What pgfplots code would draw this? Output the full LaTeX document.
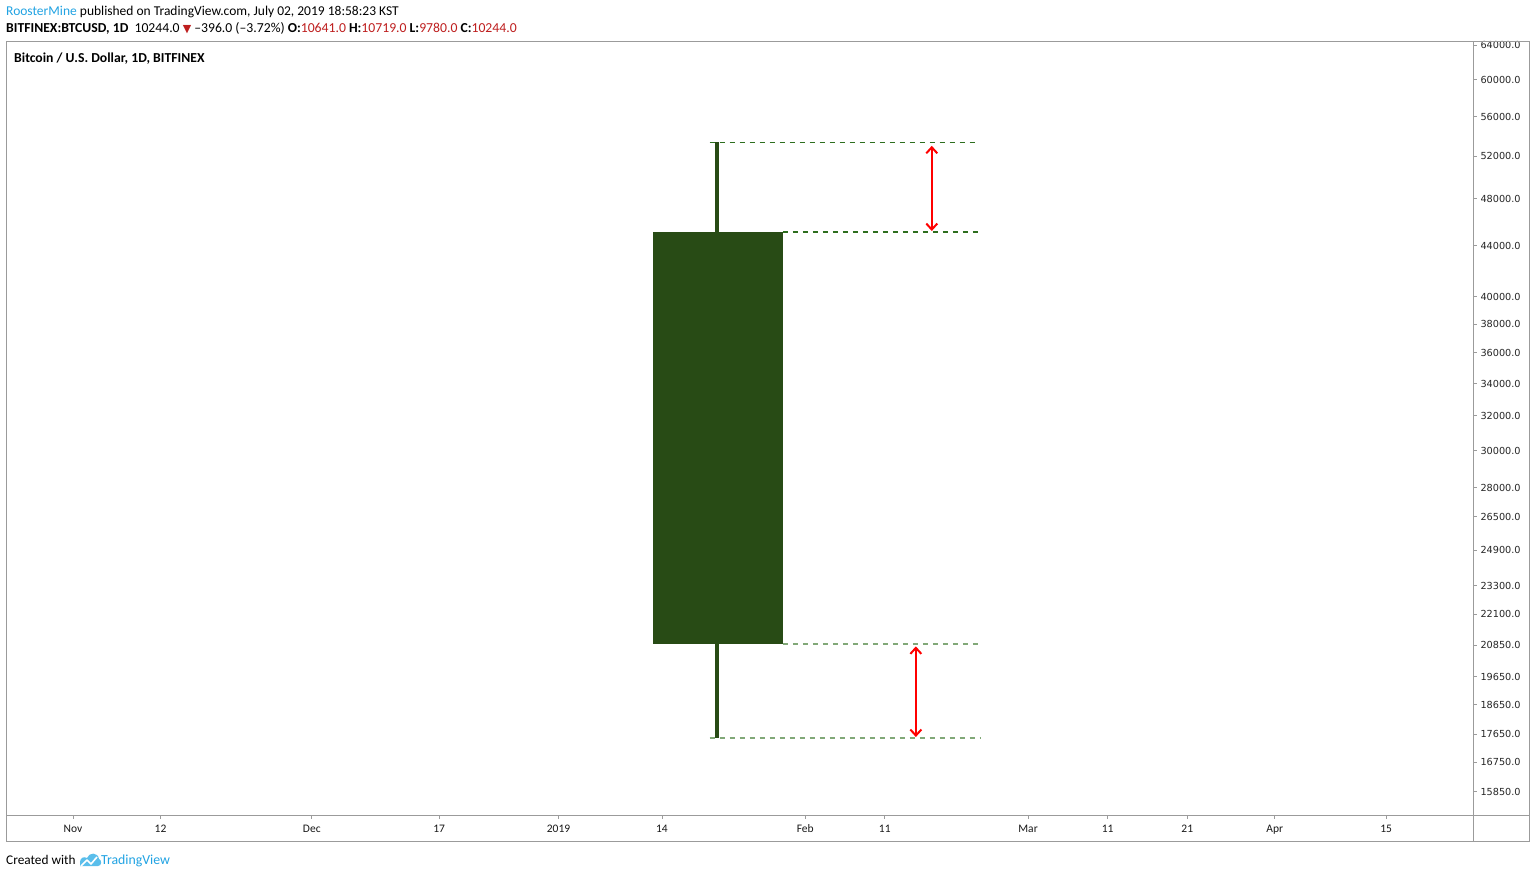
\documentclass[border=0pt]{standalone}
\usepackage{pgfplots}
\pgfplotsset{compat=1.18}
\usepackage{fontspec}
\setmainfont{Carlito}
\newfontfamily\dejavu{DejaVu Sans}
\usetikzlibrary{arrows.meta}
\definecolor{tvblue}{RGB}{33,163,227}
\definecolor{tvlogo}{RGB}{90,190,235}
\definecolor{tvred}{RGB}{190,30,30}
\definecolor{candle}{RGB}{40,75,21}
\definecolor{dashgreen}{RGB}{45,110,30}
\definecolor{framegray}{RGB}{155,155,155}
\begin{document}
\begin{tikzpicture}[x=1pt,y=1pt]
\path[use as bounding box] (0,0) rectangle (1536,-878);
\fill[white] (0,0) rectangle (1536,-878);
\begin{axis}[
  at={(6pt,-815pt)}, anchor=south west,
  scale only axis, width=1467pt, height=774pt,
  xmin=-8.42, xmax=175.9,
  ymode=log, ymin=15180, ymax=64480,
  axis line style={draw=none},
  tick align=outside,
  major tick length=4pt,
  tick style={framegray, line width=0.8pt},
  minor tick num=0,
  xtick pos=bottom, ytick pos=right,
  xtick={0,11,30,46,61,74,92,102,120,130,140,151,165},
  xticklabels={Nov,12,Dec,17,2019,14,Feb,11,Mar,11,21,Apr,15},
  typeset ticklabels with strut,
  xticklabel style={font=\fontsize{11.5}{13}\selectfont, text=black!90, yshift=-1pt},
  ytick={64000,60000,56000,52000,48000,44000,40000,38000,36000,34000,32000,30000,28000,26500,24900,23300,22100,20850,19650,18650,17650,16750,15850},
  yticklabels={64000.0,60000.0,56000.0,52000.0,48000.0,44000.0,40000.0,38000.0,36000.0,34000.0,32000.0,30000.0,28000.0,26500.0,24900.0,23300.0,22100.0,20850.0,19650.0,18650.0,17650.0,16750.0,15850.0},
  yticklabel pos=right,
  yticklabel style={font=\dejavu\fontsize{9.7}{11}\selectfont, text=black!85, anchor=west, yshift=-1.5pt},
  clip=false,
]
% wick
\addplot[candle, line width=4pt, line cap=butt] coordinates {(80.9,17530) (80.9,53370)};
% body
\addplot[fill=candle, draw=none] coordinates {(72.9,20890) (89.2,20890) (89.2,45120) (72.9,45120)} -- cycle;
% dashed levels
\addplot[dashgreen, line width=1.2pt, dash pattern=on 5pt off 5pt] coordinates {(80.0,53370) (113.6,53370)};
\addplot[dashgreen, line width=1.2pt, dash pattern=on 5pt off 5pt] coordinates {(89.2,45120) (113.8,45120)};
\addplot[dashgreen!60, line width=1.2pt, dash pattern=on 5pt off 5pt] coordinates {(89.2,20890) (113.8,20890)};
\addplot[dashgreen!60, line width=1.2pt, dash pattern=on 5pt off 5pt] coordinates {(80.0,17530) (114.1,17530)};
% arrows
\addplot[red, line width=2pt, {Straight Barb[length=6pt,width=11pt]}-{Straight Barb[length=6pt,width=11pt]}] coordinates {(107.9,53000) (107.9,45200)};
\addplot[red, line width=2pt, {Straight Barb[length=6pt,width=11pt]}-{Straight Barb[length=6pt,width=11pt]}] coordinates {(105.9,20800) (105.9,17560)};
\end{axis}
% frame
\draw[framegray, line width=1pt] (6,-41) rectangle (1529,-841);
\draw[framegray, line width=1pt] (1473,-41) -- (1473,-841);
\draw[framegray, line width=1pt] (6,-815) -- (1529,-815);
% header
\node[anchor=base west, inner sep=0pt, font=\fontsize{13.5}{15}\selectfont] at (6,-16)
  {\textcolor{tvblue}{RoosterMine} published on TradingView.com, July 02, 2019 18:58:23 KST};
\node[anchor=base west, inner sep=0pt, font=\fontsize{13.7}{15}\selectfont] at (6,-32)
  {\textbf{BITFINEX:BTCUSD, 1D}\ \ 10244.0 {\dejavu\fontsize{11}{12}\selectfont\textcolor{tvred}{▼}} –396.0 (–3.72\%) \textbf{O:}\textcolor{tvred}{10641.0} \textbf{H:}\textcolor{tvred}{10719.0} \textbf{L:}\textcolor{tvred}{9780.0} \textbf{C:}\textcolor{tvred}{10244.0}};
\node[anchor=base west, inner sep=0pt, font=\bfseries\fontsize{13.7}{15}\selectfont] at (14,-62)
  {Bitcoin / U.S. Dollar, 1D, BITFINEX};
% footer
\node[anchor=base west, inner sep=0pt, font=\fontsize{13.3}{15}\selectfont] at (6,-864) {Created with};
\fill[tvlogo] (80,-866) -- (80,-862) .. controls (80,-858) and (84,-856) .. (87,-858) .. controls (89,-852) and (98,-852) .. (99,-859) .. controls (102,-860) and (102,-866) .. (98,-866) -- cycle;
\draw[white, line width=1.6pt, line join=round] (81,-866) -- (87,-860) -- (91,-864) -- (97,-857);
\node[anchor=base west, inner sep=0pt, font=\fontsize{13.8}{15}\selectfont, text=tvblue] at (101,-864) {TradingView};
\end{tikzpicture}
\end{document}
